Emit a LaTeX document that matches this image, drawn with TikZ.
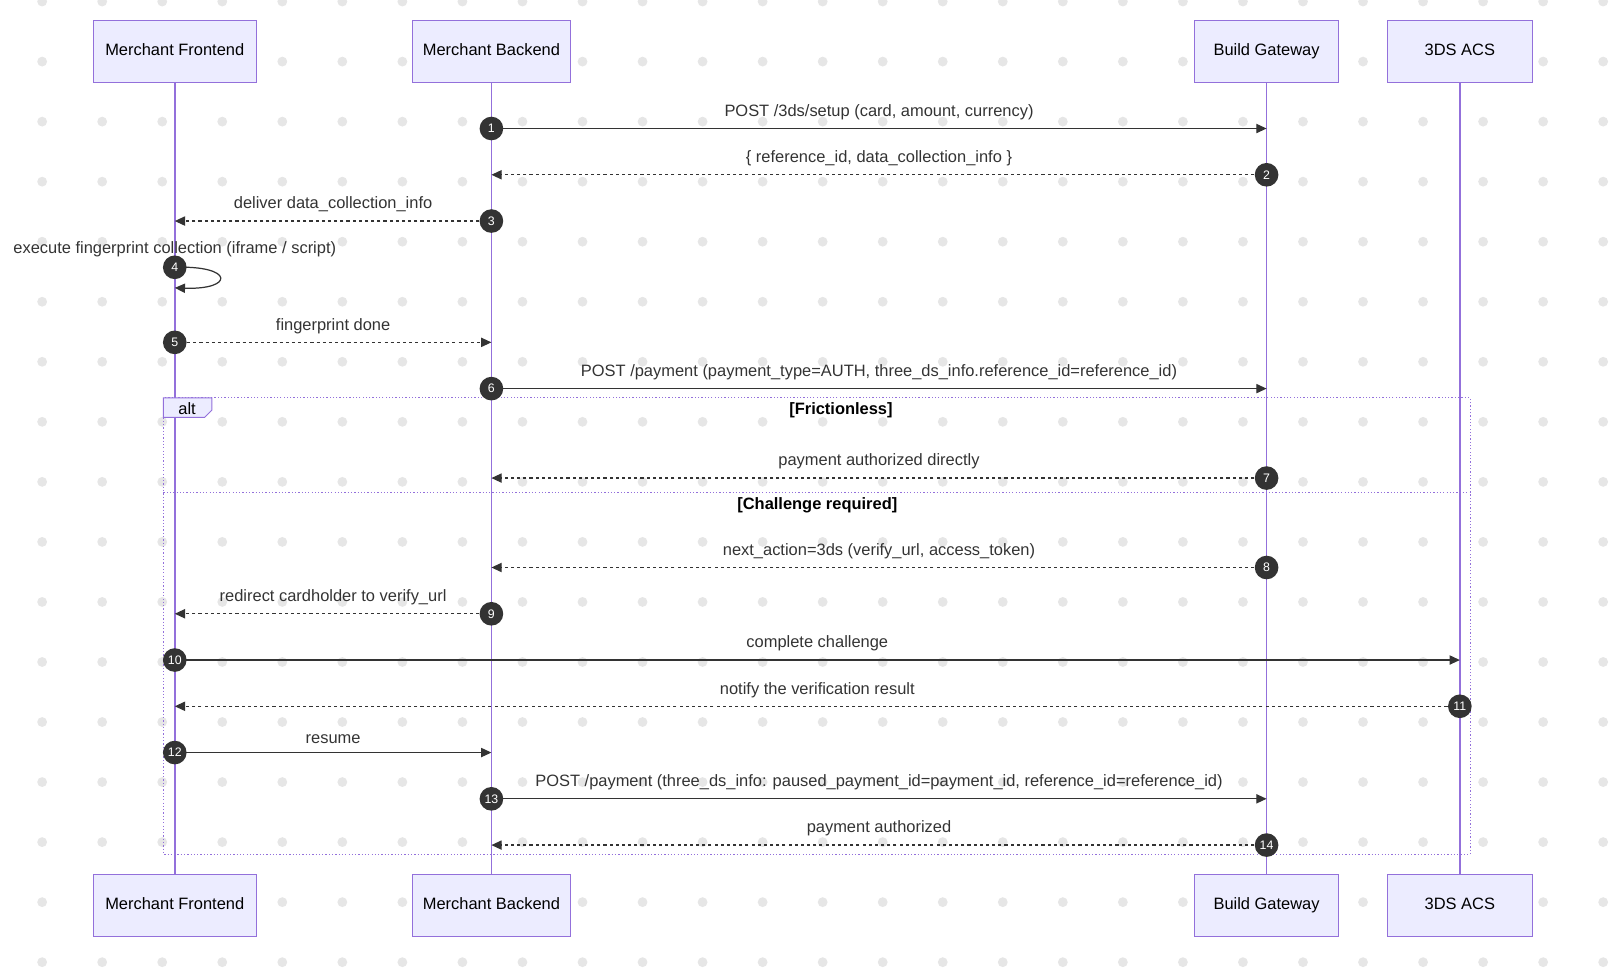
\documentclass[tikz,border=0pt]{standalone}
\usepackage{fontspec}
\setmainfont{Liberation Sans}
\usetikzlibrary{arrows.meta}
\definecolor{actorfill}{HTML}{ECECFF}
\definecolor{actorline}{HTML}{9370DB}
\definecolor{msgcol}{HTML}{333333}
\definecolor{dotcol}{HTML}{E6E6E6}
\tikzset{
  actor/.style={draw=actorline, fill=actorfill, minimum height=30pt, inner sep=0pt, text depth=0.2em, font=\fontsize{8}{9}\selectfont},
  msg/.style={draw=msgcol, line width=0.6pt, -{Triangle[length=5pt,width=4.5pt]}},
  reply/.style={msg, dash pattern=on 1.5pt off 1.5pt},
  seqno/.style={circle, fill=msgcol, text=white, inner sep=0pt, minimum size=11.5pt, font=\fontsize{6}{6}\selectfont},
  lbl/.style={font=\fontsize{8}{9}\selectfont, text=msgcol, inner sep=1pt},
  life/.style={draw=actorline, line width=0.8pt}
}
\newcommand{\actorpair}[4]{% name, x, width, text
  \node[actor, minimum width=#3*0.5pt] (#1t) at (#2,50) {#4};
  \node[actor, minimum width=#3*0.5pt] (#1b) at (#2,881) {#4};
}
\begin{document}
\begin{tikzpicture}[x=0.5pt, y=-0.5pt]
\useasboundingbox (0,0) rectangle (1568,949);
% background dots
\foreach \i in {0,...,26} {
  \foreach \j in {0,...,16} {
    \fill[dotcol] (41+58.4*\i, 1.5+58.4*\j) circle (2.4pt);
  }
}
% actors
\actorpair{fe}{170}{159}{Merchant Frontend}
\actorpair{be}{478}{154}{Merchant Backend}
\actorpair{gw}{1232}{140}{Build Gateway}
\actorpair{acs}{1420}{141}{3DS ACS}
\foreach \a in {fe,be,gw,acs} {
  \draw[life] (\a t.south) -- (\a b.north);
}
% alt frame
\draw[actorline, densely dotted, line width=0.6pt] (159,387) rectangle (1430,831);
\draw[actorline, densely dotted, line width=0.6pt] (159,479) -- (1430,479);
\draw[actorline, fill=actorfill, line width=0.5pt] (159,387) -- (206,387) -- (206,399) -- (199,406) -- (159,406) -- cycle;
\node[lbl, text=black] (alttag) at (182,397) {alt};
\node[lbl, text=black, font=\fontsize{8}{9}\bfseries] (g1) at (818,399) {[Frictionless]};
\node[lbl, text=black, font=\fontsize{8}{9}\bfseries] (g2) at (795,491) {[Challenge required]};
% message anchors
\foreach \a/\x in {fe/170,be/478,gw/1232,acs/1420} {
  \foreach \n/\y in {1/125,2/170,3/215,4/260,5/333,6/378,7/465,8/552,9/597,10/642,11/687,12/732,13/777,14/822} {
    \coordinate (\a\n) at (\x,\y);
  }
}
\draw[msg] (be1) -- node[lbl, above=3pt] {POST /3ds/setup (card, amount, currency)} (gw1);
\draw[reply] (gw2) -- node[lbl, above=3pt] {\{ reference\_id, data\_collection\_info \}} (be2);
\draw[reply] (be3) -- node[lbl, above=3pt] {deliver data\_collection\_info} (fe3);
\coordinate (fe4b) at (170,280);
\draw[msg] (fe4) .. controls (228,258) and (228,282) .. (fe4b);
\node[lbl] (l4) at (170,242) {execute fingerprint collection (iframe / script)};
\draw[reply] (fe5) -- node[lbl, above=3pt] {fingerprint done} (be5);
\draw[msg] (be6) -- node[lbl, above=3pt] {POST /payment (payment\_type=AUTH, three\_ds\_info.reference\_id=reference\_id)} (gw6);
\draw[reply] (gw7) -- node[lbl, above=3pt] {payment authorized directly} (be7);
\draw[reply] (gw8) -- node[lbl, above=3pt] {next\_action=3ds (verify\_url, access\_token)} (be8);
\draw[reply] (be9) -- node[lbl, above=3pt] {redirect cardholder to verify\_url} (fe9);
\draw[msg] (fe10) -- node[lbl, above=3pt] {complete challenge} (acs10);
\draw[reply] (acs11) -- node[lbl, above=3pt] {notify the verification result} (fe11);
\draw[msg] (fe12) -- node[lbl, above=3pt] {resume} (be12);
\draw[msg] (be13) -- node[lbl, above=3pt] {POST /payment (three\_ds\_info: paused\_payment\_id=payment\_id, reference\_id=reference\_id)} (gw13);
\draw[reply] (gw14) -- node[lbl, above=3pt] {payment authorized} (be14);
% sequence numbers
\foreach \n/\a in {1/be,2/gw,3/be,4/fe,5/fe,6/be,7/gw,8/gw,9/be,10/fe,11/acs,12/fe,13/be,14/gw} {
  \node[seqno] (n\n) at (\a\n) {\n};
}
\end{tikzpicture}
\end{document}
